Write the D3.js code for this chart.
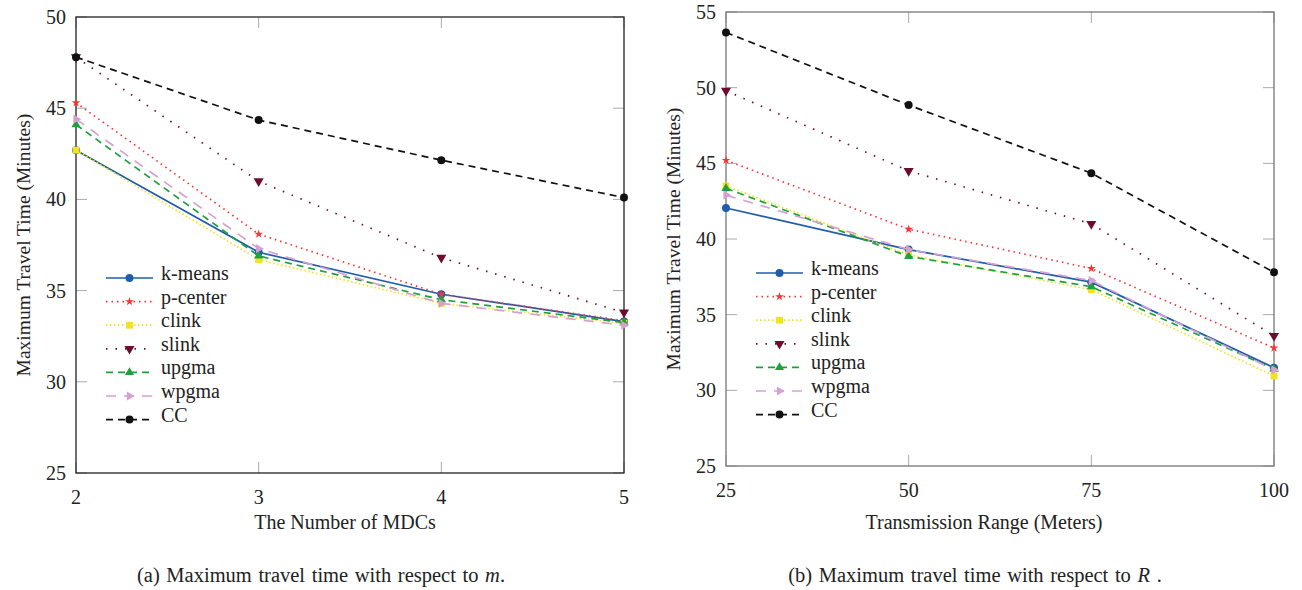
<!DOCTYPE html>
<html>
<head>
<meta charset="utf-8">
<style>
body { margin: 0; background: #fff; }
svg text { font-family: "Liberation Serif", "Times New Roman", serif; fill: #222; }
</style>
</head>
<body>
<svg id="thevis" width="1302" height="590"></svg>
<script src="https://d3js.org/d3.v7.min.js"></script>
<script>

// data
var seriesNames = ["k-means", "p-center", "clink", "slink", "upgma", "wpgma", "CC"];

// (a) against number of MDCs
var mdcs = [2, 3, 4, 5];
var aKmeans  = [42.7, 37.1, 34.8, 33.3];
var aPcenter = [45.3, 38.1, 34.8, 33.35];
var aClink   = [42.7, 36.7, 34.3, 33.2];
var aSlink   = [47.8, 41.0, 36.8, 33.8];
var aUpgma   = [44.1, 36.9, 34.5, 33.25];
var aWpgma   = [44.4, 37.3, 34.3, 33.1];
var aCC      = [47.8, 44.35, 42.15, 40.1];

// (b) against transmission range
var ranges = [25, 50, 75, 100];
var bKmeans  = [42.05, 39.3, 37.15, 31.5];
var bPcenter = [45.2, 40.65, 38.05, 32.8];
var bClink   = [43.5, 38.95, 36.65, 30.95];
var bSlink   = [49.8, 44.5, 41.0, 33.6];
var bUpgma   = [43.35, 38.85, 36.85, 31.4];
var bWpgma   = [42.9, 39.3, 37.25, 31.35];
var bCC      = [53.65, 48.85, 44.35, 37.8];

var yTicksA = [25, 30, 35, 40, 45, 50];
var yTicksB = [25, 30, 35, 40, 45, 50, 55];

// styles per series
var styles = {
  "k-means":  {color: "#1f5cab", dash: null,      sym: d3.symbolCircle,   size: 50, rot: 0},
  "p-center": {color: "#ff3333", dash: "1.5,4",   sym: d3.symbolStar,     size: 24, rot: 0},
  "clink":    {color: "#f2e41c", dash: "1.5,2.5", sym: d3.symbolSquare,   size: 48, rot: 0},
  "slink":    {color: "#6e0b2e", dash: "1.5,8",   sym: d3.symbolTriangle, size: 44, rot: 180},
  "upgma":    {color: "#1fa03c", dash: "7,5",     sym: d3.symbolTriangle, size: 36, rot: 0},
  "wpgma":    {color: "#d7a0d2", dash: "10,8",    sym: d3.symbolTriangle, size: 36, rot: 90},
  "CC":       {color: "#111111", dash: "7,5",     sym: d3.symbolCircle,   size: 50, rot: 0}
};

var fs = 20;   // base font size
var svg = d3.select("svg");

function drawPanel(cfg) {
  var x = d3.scaleLinear().domain(d3.extent(cfg.xs)).range([cfg.left, cfg.right]);
  var y = d3.scaleLinear().domain([cfg.yTicks[0], cfg.yTicks[cfg.yTicks.length - 1]])
      .range([cfg.bottom, cfg.top]);
  var g = svg.append("g");

  // inward gray ticks on all four sides
  var tickLen = 11;
  g.selectAll(".ytl").data(cfg.yTicks).enter().append("line")
    .attr("x1", cfg.left).attr("x2", cfg.left + tickLen)
    .attr("y1", d => y(d)).attr("y2", d => y(d))
    .attr("stroke", "#aaa").attr("stroke-width", 1);
  g.selectAll(".ytr").data(cfg.yTicks).enter().append("line")
    .attr("x1", cfg.right).attr("x2", cfg.right - tickLen)
    .attr("y1", d => y(d)).attr("y2", d => y(d))
    .attr("stroke", "#aaa").attr("stroke-width", 1);
  g.selectAll(".xtb").data(cfg.xs).enter().append("line")
    .attr("x1", d => x(d)).attr("x2", d => x(d))
    .attr("y1", cfg.bottom).attr("y2", cfg.bottom - tickLen)
    .attr("stroke", "#aaa").attr("stroke-width", 1);
  g.selectAll(".xtt").data(cfg.xs).enter().append("line")
    .attr("x1", d => x(d)).attr("x2", d => x(d))
    .attr("y1", cfg.top).attr("y2", cfg.top + tickLen)
    .attr("stroke", "#aaa").attr("stroke-width", 1);

  // frame
  g.append("rect")
    .attr("x", cfg.left).attr("y", cfg.top)
    .attr("width", cfg.right - cfg.left).attr("height", cfg.bottom - cfg.top)
    .attr("fill", "none").attr("stroke", cfg.frame).attr("stroke-width", 1.3);

  // tick labels
  g.selectAll(".yl").data(cfg.yTicks).enter().append("text")
    .attr("x", cfg.left - 10).attr("y", d => y(d) + 7)
    .attr("text-anchor", "end").attr("font-size", fs)
    .text(d => d);
  g.selectAll(".xl").data(cfg.xs).enter().append("text")
    .attr("x", d => x(d)).attr("y", cfg.bottom + cfg.xlabOff)
    .attr("text-anchor", "middle").attr("font-size", fs)
    .text(d => d);

  // axis titles
  g.append("text")
    .attr("x", cfg.xTitleX).attr("y", 529)
    .attr("text-anchor", "middle").attr("font-size", fs)
    .text(cfg.xTitle);
  g.append("text")
    .attr("transform", "translate(" + cfg.yTitleX + "," + ((cfg.top + cfg.bottom) / 2) + ") rotate(-90)")
    .attr("text-anchor", "middle").attr("font-size", 19.5)
    .text("Maximum Travel Time (Minutes)");

  // series lines and markers
  var line = d3.line().x(d => x(d.x)).y(d => y(d.v));
  seriesNames.forEach(function (name, i) {
    var st = styles[name];
    var pts = cfg.xs.map((xv, j) => ({x: xv, v: cfg.series[i][j]}));
    g.append("path").datum(pts)
      .attr("d", line).attr("fill", "none")
      .attr("stroke", st.color).attr("stroke-width", 1.7)
      .attr("stroke-dasharray", st.dash);
    g.selectAll(".m" + i).data(pts).enter().append("path")
      .attr("d", d3.symbol().type(st.sym).size(st.size))
      .attr("transform", d => "translate(" + x(d.x) + "," + y(d.v) + ") rotate(" + st.rot + ")")
      .attr("fill", st.color);
  });

  // legend
  var lg = g.append("g");
  seriesNames.forEach(function (name, i) {
    var st = styles[name];
    var ly = cfg.legY + i * 23.6;
    lg.append("line")
      .attr("x1", cfg.legX).attr("x2", cfg.legX + 47)
      .attr("y1", ly).attr("y2", ly)
      .attr("stroke", st.color).attr("stroke-width", 1.7)
      .attr("stroke-dasharray", st.dash);
    lg.append("path")
      .attr("d", d3.symbol().type(st.sym).size(st.size))
      .attr("transform", "translate(" + (cfg.legX + 23.5) + "," + ly + ") rotate(" + st.rot + ")")
      .attr("fill", st.color);
    lg.append("text")
      .attr("x", cfg.legX + 55).attr("y", ly + 2)
      .attr("font-size", fs)
      .text(name);
  });

  // caption
  var cap = g.append("text")
    .attr("x", cfg.capX).attr("y", 582)
    .attr("text-anchor", "middle").attr("font-size", 20.5)
    .attr("word-spacing", 1.5);
  cap.append("tspan").text(cfg.caption);
  cap.append("tspan").attr("font-style", "italic").text(cfg.capVar);
  cap.append("tspan").text(".");
}

drawPanel({
  xs: mdcs, yTicks: yTicksA,
  series: [aKmeans, aPcenter, aClink, aSlink, aUpgma, aWpgma, aCC],
  left: 76, right: 624, top: 17, bottom: 473,
  frame: "#222", xlabOff: 31, yTitleX: 30,
  xTitle: "The Number of MDCs", xTitleX: 345,
  legX: 106, legY: 278,
  caption: "(a) Maximum travel time with respect to ", capVar: "m", capX: 321
});

drawPanel({
  xs: ranges, yTicks: yTicksB,
  series: [bKmeans, bPcenter, bClink, bSlink, bUpgma, bWpgma, bCC],
  left: 726, right: 1274, top: 12, bottom: 466,
  frame: "#777", xlabOff: 31, yTitleX: 680,
  xTitle: "Transmission Range (Meters)", xTitleX: 984,
  legX: 756, legY: 273,
  caption: "(b) Maximum travel time with respect to ", capVar: "R ", capX: 975
});

</script>
</body>
</html>
